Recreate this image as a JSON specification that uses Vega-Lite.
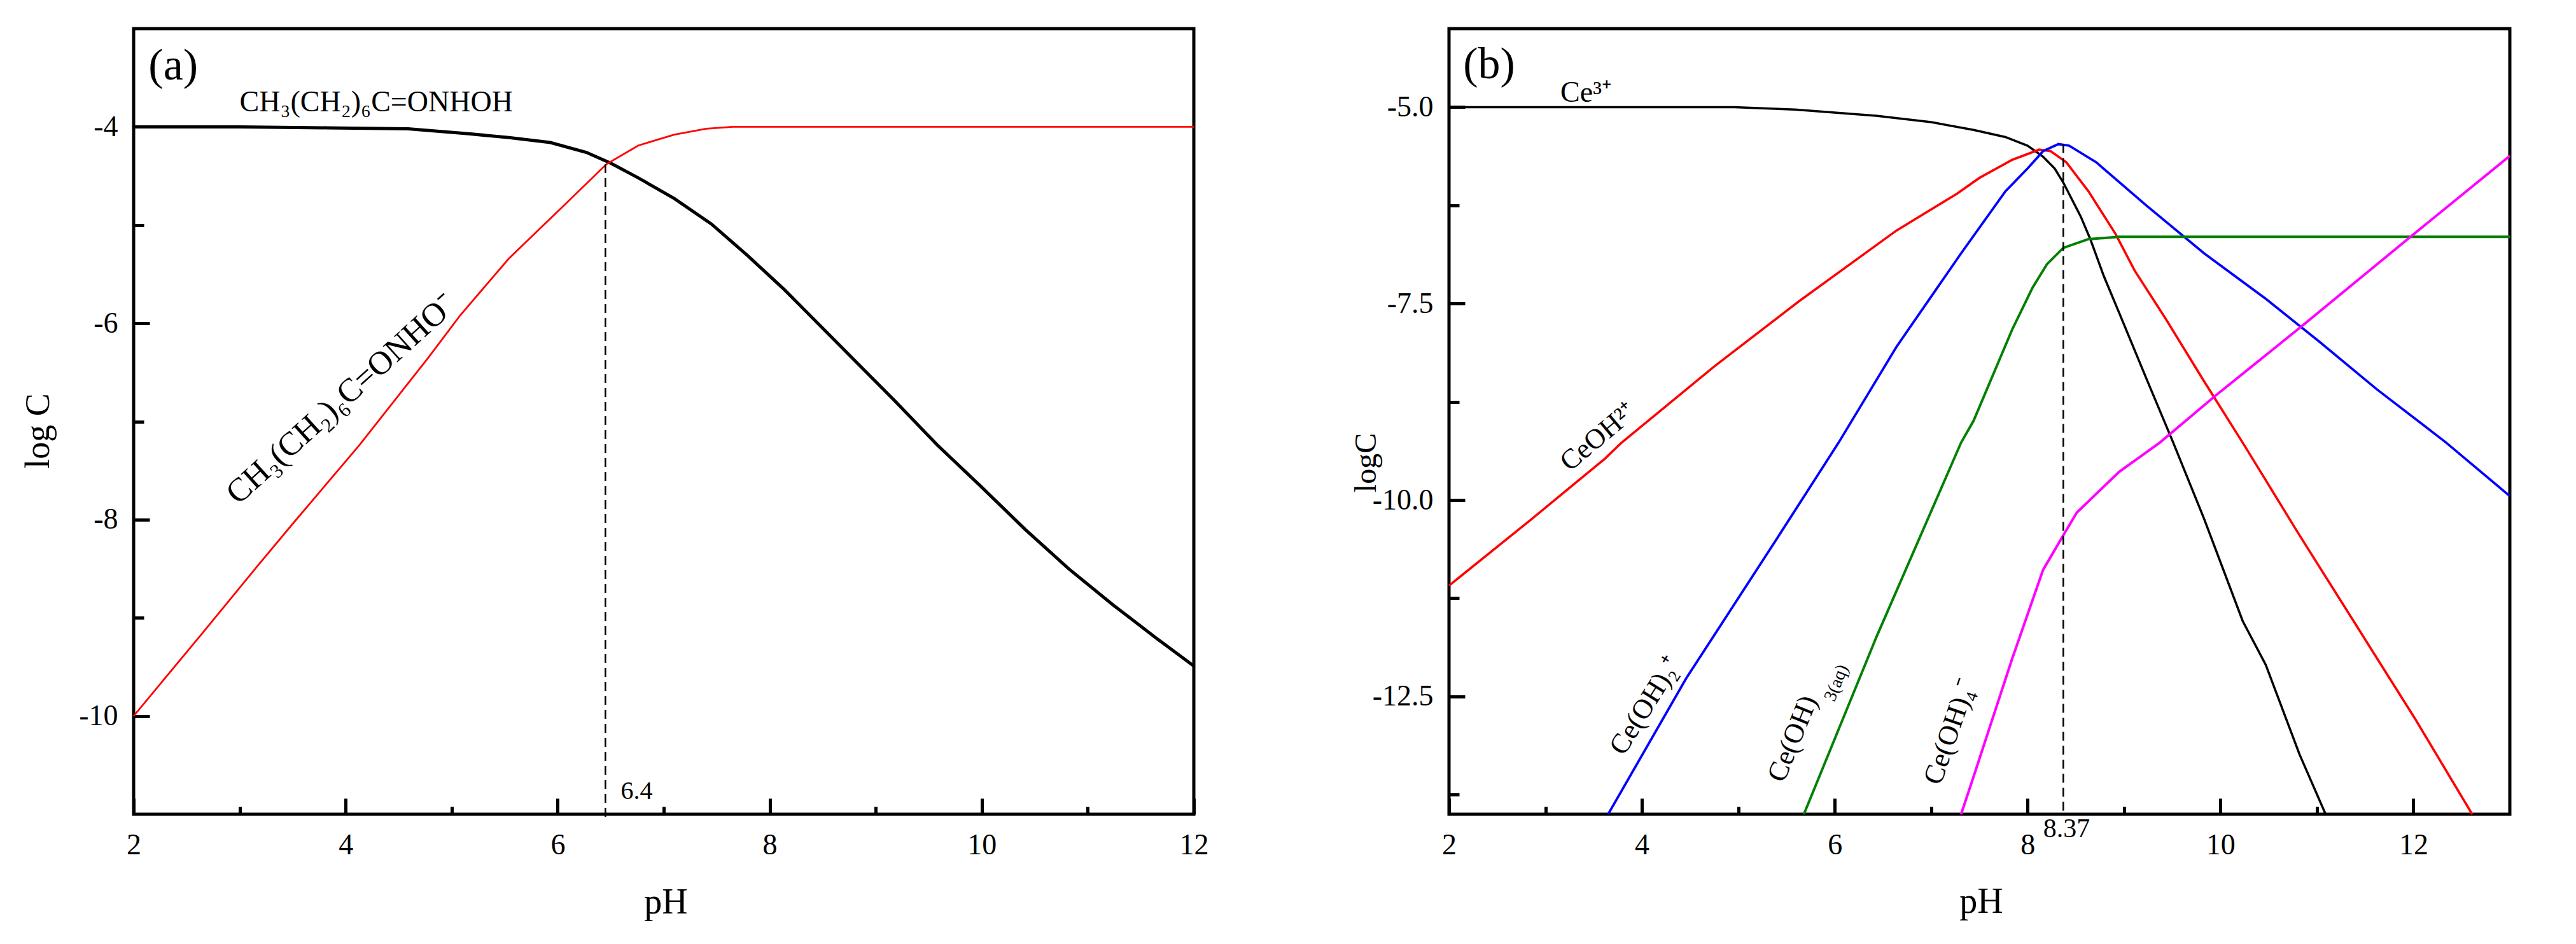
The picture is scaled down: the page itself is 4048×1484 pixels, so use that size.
{
  "$schema": "https://vega.github.io/schema/vega-lite/v6.json",
  "background": "white",
  "padding": {"left": 30, "top": 42, "right": 5, "bottom": 5},
  "config": {
    "view": {"stroke": "black", "strokeWidth": 5},
    "font": "Liberation Serif",
    "text": {"font": "Liberation Serif", "color": "black"},
    "axis": {
      "domain": false,
      "grid": false,
      "labelFont": "Liberation Serif",
      "labelFontSize": 46,
      "labelColor": "black",
      "labelFlush": false,
      "labelOverlap": false,
      "tickColor": "black",
      "tickWidth": 5,
      "titleFont": "Liberation Serif",
      "titleFontSize": 56,
      "titleFontWeight": "normal",
      "titleColor": "black"
    }
  },
  "datasets": {
    "curvesA": [
      {"species": "HA", "pH": 2, "logC": -4.0},
      {"species": "HA", "pH": 3, "logC": -4.0},
      {"species": "HA", "pH": 3.82, "logC": -4.01},
      {"species": "HA", "pH": 4.59, "logC": -4.02},
      {"species": "HA", "pH": 5.16, "logC": -4.07},
      {"species": "HA", "pH": 5.54, "logC": -4.11},
      {"species": "HA", "pH": 5.93, "logC": -4.16},
      {"species": "HA", "pH": 6.27, "logC": -4.26},
      {"species": "HA", "pH": 6.5, "logC": -4.37},
      {"species": "HA", "pH": 6.76, "logC": -4.52},
      {"species": "HA", "pH": 7.1, "logC": -4.73},
      {"species": "HA", "pH": 7.45, "logC": -4.99},
      {"species": "HA", "pH": 7.79, "logC": -5.31},
      {"species": "HA", "pH": 8.14, "logC": -5.66},
      {"species": "HA", "pH": 8.48, "logC": -6.03},
      {"species": "HA", "pH": 8.83, "logC": -6.41},
      {"species": "HA", "pH": 9.17, "logC": -6.78},
      {"species": "HA", "pH": 9.58, "logC": -7.24},
      {"species": "HA", "pH": 9.99, "logC": -7.66},
      {"species": "HA", "pH": 10.41, "logC": -8.1},
      {"species": "HA", "pH": 10.82, "logC": -8.5},
      {"species": "HA", "pH": 11.24, "logC": -8.87},
      {"species": "HA", "pH": 11.65, "logC": -9.21},
      {"species": "HA", "pH": 12, "logC": -9.49},
      {"species": "A", "pH": 2, "logC": -10.0},
      {"species": "A", "pH": 2.63, "logC": -9.18},
      {"species": "A", "pH": 3.17, "logC": -8.47},
      {"species": "A", "pH": 3.51, "logC": -8.03},
      {"species": "A", "pH": 4.13, "logC": -7.24},
      {"species": "A", "pH": 4.78, "logC": -6.35},
      {"species": "A", "pH": 5.08, "logC": -5.92},
      {"species": "A", "pH": 5.54, "logC": -5.34},
      {"species": "A", "pH": 6.04, "logC": -4.82},
      {"species": "A", "pH": 6.46, "logC": -4.38},
      {"species": "A", "pH": 6.76, "logC": -4.19},
      {"species": "A", "pH": 7.1, "logC": -4.08},
      {"species": "A", "pH": 7.4, "logC": -4.02},
      {"species": "A", "pH": 7.65, "logC": -4.0},
      {"species": "A", "pH": 12, "logC": -4.0}
    ],
    "curvesB": [
      {"species": "Ce3+", "pH": 2, "logC": -5.0},
      {"species": "Ce3+", "pH": 3, "logC": -5.0},
      {"species": "Ce3+", "pH": 4, "logC": -5.0},
      {"species": "Ce3+", "pH": 4.96, "logC": -5.0},
      {"species": "Ce3+", "pH": 5.59, "logC": -5.03},
      {"species": "Ce3+", "pH": 6.43, "logC": -5.11},
      {"species": "Ce3+", "pH": 7.0, "logC": -5.19},
      {"species": "Ce3+", "pH": 7.44, "logC": -5.29},
      {"species": "Ce3+", "pH": 7.77, "logC": -5.38},
      {"species": "Ce3+", "pH": 8.0, "logC": -5.49},
      {"species": "Ce3+", "pH": 8.16, "logC": -5.63},
      {"species": "Ce3+", "pH": 8.28, "logC": -5.78},
      {"species": "Ce3+", "pH": 8.37, "logC": -5.96},
      {"species": "Ce3+", "pH": 8.55, "logC": -6.39},
      {"species": "Ce3+", "pH": 8.65, "logC": -6.68},
      {"species": "Ce3+", "pH": 8.79, "logC": -7.15},
      {"species": "Ce3+", "pH": 8.95, "logC": -7.62},
      {"species": "Ce3+", "pH": 9.23, "logC": -8.45},
      {"species": "Ce3+", "pH": 9.51, "logC": -9.27},
      {"species": "Ce3+", "pH": 9.83, "logC": -10.24},
      {"species": "Ce3+", "pH": 10.23, "logC": -11.54},
      {"species": "Ce3+", "pH": 10.47, "logC": -12.1},
      {"species": "Ce3+", "pH": 10.82, "logC": -13.24},
      {"species": "Ce3+", "pH": 11.09, "logC": -14.0},
      {"species": "CeOH2+", "pH": 2, "logC": -11.09},
      {"species": "CeOH2+", "pH": 2.86, "logC": -10.24},
      {"species": "CeOH2+", "pH": 3.62, "logC": -9.47},
      {"species": "CeOH2+", "pH": 3.79, "logC": -9.27},
      {"species": "CeOH2+", "pH": 4.75, "logC": -8.3},
      {"species": "CeOH2+", "pH": 5.63, "logC": -7.47},
      {"species": "CeOH2+", "pH": 6.64, "logC": -6.57},
      {"species": "CeOH2+", "pH": 7.27, "logC": -6.1},
      {"species": "CeOH2+", "pH": 7.5, "logC": -5.9},
      {"species": "CeOH2+", "pH": 7.84, "logC": -5.67},
      {"species": "CeOH2+", "pH": 8.12, "logC": -5.54},
      {"species": "CeOH2+", "pH": 8.24, "logC": -5.56},
      {"species": "CeOH2+", "pH": 8.4, "logC": -5.7},
      {"species": "CeOH2+", "pH": 8.63, "logC": -6.07},
      {"species": "CeOH2+", "pH": 8.91, "logC": -6.61},
      {"species": "CeOH2+", "pH": 9.11, "logC": -7.08},
      {"species": "CeOH2+", "pH": 9.43, "logC": -7.69},
      {"species": "CeOH2+", "pH": 9.83, "logC": -8.49},
      {"species": "CeOH2+", "pH": 10.23, "logC": -9.27},
      {"species": "CeOH2+", "pH": 10.82, "logC": -10.45},
      {"species": "CeOH2+", "pH": 11.42, "logC": -11.62},
      {"species": "CeOH2+", "pH": 12.02, "logC": -12.79},
      {"species": "CeOH2+", "pH": 12.61, "logC": -14.0},
      {"species": "Ce(OH)2+", "pH": 3.65, "logC": -14.0},
      {"species": "Ce(OH)2+", "pH": 4.46, "logC": -12.27},
      {"species": "Ce(OH)2+", "pH": 5.38, "logC": -10.53},
      {"species": "Ce(OH)2+", "pH": 6.04, "logC": -9.27},
      {"species": "Ce(OH)2+", "pH": 6.64, "logC": -8.05},
      {"species": "Ce(OH)2+", "pH": 7.31, "logC": -6.86},
      {"species": "Ce(OH)2+", "pH": 7.77, "logC": -6.07},
      {"species": "Ce(OH)2+", "pH": 8.0, "logC": -5.78},
      {"species": "Ce(OH)2+", "pH": 8.16, "logC": -5.56},
      {"species": "Ce(OH)2+", "pH": 8.32, "logC": -5.47},
      {"species": "Ce(OH)2+", "pH": 8.43, "logC": -5.49},
      {"species": "Ce(OH)2+", "pH": 8.71, "logC": -5.7},
      {"species": "Ce(OH)2+", "pH": 9.23, "logC": -6.25},
      {"species": "Ce(OH)2+", "pH": 9.83, "logC": -6.86},
      {"species": "Ce(OH)2+", "pH": 10.47, "logC": -7.44},
      {"species": "Ce(OH)2+", "pH": 11.02, "logC": -7.98},
      {"species": "Ce(OH)2+", "pH": 11.62, "logC": -8.59},
      {"species": "Ce(OH)2+", "pH": 12.34, "logC": -9.27},
      {"species": "Ce(OH)2+", "pH": 13.0, "logC": -9.95},
      {"species": "Ce(OH)3", "pH": 5.68, "logC": -14.0},
      {"species": "Ce(OH)3", "pH": 6.43, "logC": -11.75},
      {"species": "Ce(OH)3", "pH": 7.31, "logC": -9.27},
      {"species": "Ce(OH)3", "pH": 7.44, "logC": -8.99},
      {"species": "Ce(OH)3", "pH": 7.84, "logC": -7.83},
      {"species": "Ce(OH)3", "pH": 8.05, "logC": -7.3},
      {"species": "Ce(OH)3", "pH": 8.2, "logC": -7.0},
      {"species": "Ce(OH)3", "pH": 8.37, "logC": -6.79},
      {"species": "Ce(OH)3", "pH": 8.63, "logC": -6.68},
      {"species": "Ce(OH)3", "pH": 8.95, "logC": -6.65},
      {"species": "Ce(OH)3", "pH": 13.0, "logC": -6.65},
      {"species": "Ce(OH)4-", "pH": 7.31, "logC": -14.0},
      {"species": "Ce(OH)4-", "pH": 7.44, "logC": -13.52},
      {"species": "Ce(OH)4-", "pH": 7.84, "logC": -12.02},
      {"species": "Ce(OH)4-", "pH": 8.16, "logC": -10.89},
      {"species": "Ce(OH)4-", "pH": 8.37, "logC": -10.45},
      {"species": "Ce(OH)4-", "pH": 8.51, "logC": -10.16},
      {"species": "Ce(OH)4-", "pH": 8.95, "logC": -9.64},
      {"species": "Ce(OH)4-", "pH": 9.37, "logC": -9.27},
      {"species": "Ce(OH)4-", "pH": 9.95, "logC": -8.67},
      {"species": "Ce(OH)4-", "pH": 10.83, "logC": -7.8},
      {"species": "Ce(OH)4-", "pH": 11.98, "logC": -6.64},
      {"species": "Ce(OH)4-", "pH": 13.0, "logC": -5.62}
    ]
  },
  "bounds": "flush",
  "spacing": 401,
  "resolve": {"scale": {"color": "independent", "strokeWidth": "independent"}},
  "hconcat": [
    {
      "width": 1666,
      "height": 1235,
      "encoding": {
        "x": {
          "field": "pH", "type": "quantitative",
          "scale": {"domain": [2, 12], "nice": false, "zero": false},
          "axis": {
            "title": "pH", "orient": "bottom",
            "values": [2, 3, 4, 5, 6, 7, 8, 9, 10, 11, 12],
            "labelExpr": "datum.value % 2 === 0 ? datum.label : ''",
            "tickSize": {"condition": {"test": "datum.value % 2 !== 0", "value": -12}, "value": -25},
            "labelPadding": 51,
            "titleX": 836, "titleY": 155, "titleBaseline": "alphabetic", "titleAlign": "center"
          }
        },
        "y": {
          "field": "logC", "type": "quantitative",
          "scale": {"domain": [-11, -3], "nice": false, "zero": false},
          "axis": {
            "title": "log C", "orient": "left",
            "values": [-10, -9, -8, -7, -6, -5, -4],
            "labelExpr": "datum.value % 2 === 0 ? replace(datum.label, '−', '-') : ''",
            "tickSize": {"condition": {"test": "datum.value % 2 !== 0", "value": -16}, "value": -25},
            "labelPadding": 50,
            "titleFontSize": 54,
            "titleX": -134, "titleY": 632, "titleAngle": -90, "titleBaseline": "alphabetic", "titleAlign": "center"
          }
        }
      },
      "layer": [
        {
          "data": {"name": "curvesA"},
          "mark": {"type": "line"},
          "encoding": {
            "color": {"field": "species", "type": "nominal", "scale": {"domain": ["HA", "A"], "range": ["black", "#FF0000"]}, "legend": null},
            "strokeWidth": {"field": "species", "type": "nominal", "scale": {"domain": ["HA", "A"], "range": [5, 2.8]}, "legend": null}
          }
        },
        {
          "data": {"values": [{"pH": 6.45, "logC": -4.38, "logC2": -11.05}]},
          "mark": {"type": "rule", "color": "black", "strokeWidth": 2.5, "strokeDash": [14, 8]},
          "encoding": {"y2": {"field": "logC2"}}
        },
        {
          "data": {"values": [{"pH": 2.14, "logC": -3.38, "label": "(a)"}]},
          "mark": {"type": "text", "fontSize": 70, "align": "left", "baseline": "middle"},
          "encoding": {"text": {"field": "label"}}
        },
        {
          "data": {"values": [{"pH": 3.0, "logC": -3.84, "label": "CH₃(CH₂)₆C=ONHOH"}]},
          "mark": {"type": "text", "fontSize": 46, "align": "left", "baseline": "alphabetic"},
          "encoding": {"text": {"field": "label"}}
        },
        {
          "data": {"values": [{"pH": 3.96, "logC": -6.77, "label": "CH₃(CH₂)₆C=ONHO⁻"}]},
          "mark": {"type": "text", "fontSize": 52, "align": "center", "baseline": "middle", "angle": -42},
          "encoding": {"text": {"field": "label"}}
        },
        {
          "data": {"values": [{"pH": 6.745, "logC": -10.77, "label": "6.4"}]},
          "mark": {"type": "text", "fontSize": 40, "align": "center", "baseline": "middle"},
          "encoding": {"text": {"field": "label"}}
        }
      ]
    },
    {
      "width": 1667,
      "height": 1235,
      "encoding": {
        "x": {
          "field": "pH", "type": "quantitative",
          "scale": {"domain": [2, 13], "nice": false, "zero": false},
          "axis": {
            "title": "pH", "orient": "bottom",
            "values": [2, 3, 4, 5, 6, 7, 8, 9, 10, 11, 12],
            "labelExpr": "datum.value % 2 === 0 ? datum.label : ''",
            "tickSize": {"condition": {"test": "datum.value % 2 !== 0", "value": -12}, "value": -25},
            "labelPadding": 51,
            "titleX": 836, "titleY": 154, "titleBaseline": "alphabetic", "titleAlign": "center"
          }
        },
        "y": {
          "field": "logC", "type": "quantitative",
          "scale": {"domain": [-14, -4], "nice": false, "zero": false},
          "axis": {
            "title": "logC", "orient": "left",
            "values": [-13.75, -12.5, -11.25, -10, -8.75, -7.5, -6.25, -5],
            "labelExpr": "abs(datum.value % 2.5) < 0.001 ? replace(format(datum.value, '.1f'), '−', '-') : ''",
            "tickSize": {"condition": {"test": "abs(datum.value % 2.5) > 0.001", "value": -16}, "value": -25},
            "labelPadding": 50,
            "titleFontSize": 48,
            "titleX": -116, "titleY": 682, "titleAngle": -90, "titleBaseline": "alphabetic", "titleAlign": "center"
          }
        }
      },
      "layer": [
        {
          "data": {"name": "curvesB"},
          "mark": {"type": "line"},
          "encoding": {
            "color": {"field": "species", "type": "nominal", "scale": {"domain": ["Ce3+", "CeOH2+", "Ce(OH)2+", "Ce(OH)3", "Ce(OH)4-"], "range": ["black", "#FF0000", "#0000FF", "#008000", "#FF00FF"]}, "legend": null},
            "strokeWidth": {"field": "species", "type": "nominal", "scale": {"domain": ["Ce3+", "CeOH2+", "Ce(OH)2+", "Ce(OH)3", "Ce(OH)4-"], "range": [3.5, 4, 4.5, 5, 4.5]}, "legend": null}
          }
        },
        {
          "data": {"values": [{"pH": 8.37, "logC": -5.47, "logC2": -14.0}]},
          "mark": {"type": "rule", "color": "black", "strokeWidth": 2.5, "strokeDash": [14, 8]},
          "encoding": {"y2": {"field": "logC2"}}
        },
        {
          "data": {"values": [{"pH": 2.147, "logC": -4.46, "label": "(b)"}]},
          "mark": {"type": "text", "fontSize": 70, "align": "left", "baseline": "middle"},
          "encoding": {"text": {"field": "label"}}
        },
        {
          "data": {"values": [{"pH": 3.155, "logC": -4.928, "label": "Ce³⁺"}]},
          "mark": {"type": "text", "fontSize": 46, "align": "left", "baseline": "alphabetic"},
          "encoding": {"text": {"field": "label"}}
        },
        {
          "data": {"values": [{"pH": 3.55, "logC": -9.2, "label": "CeOH²⁺"}]},
          "mark": {"type": "text", "fontSize": 44, "align": "center", "baseline": "middle", "angle": -40},
          "encoding": {"text": {"field": "label"}}
        },
        {
          "data": {"values": [{"pH": 4.04, "logC": -12.62, "label": "Ce(OH)₂⁺"}]},
          "mark": {"type": "text", "fontSize": 44, "align": "center", "baseline": "middle", "angle": -58},
          "encoding": {"text": {"field": "label"}}
        },
        {
          "data": {"values": [{"pH": 5.567, "logC": -13.04, "label": "Ce(OH)"}]},
          "mark": {"type": "text", "fontSize": 44, "align": "center", "baseline": "middle", "angle": -68},
          "encoding": {"text": {"field": "label"}}
        },
        {
          "data": {"values": [{"pH": 6.019, "logC": -12.33, "label": "3(aq)"}]},
          "mark": {"type": "text", "fontSize": 28, "align": "center", "baseline": "middle", "angle": -68},
          "encoding": {"text": {"field": "label"}}
        },
        {
          "data": {"values": [{"pH": 7.2, "logC": -12.95, "label": "Ce(OH)₄⁻"}]},
          "mark": {"type": "text", "fontSize": 44, "align": "center", "baseline": "middle", "angle": -71},
          "encoding": {"text": {"field": "label"}}
        },
        {
          "data": {"values": [{"pH": 8.404, "logC": -14.19, "label": "8.37"}]},
          "mark": {"type": "text", "fontSize": 42, "align": "center", "baseline": "middle"},
          "encoding": {"text": {"field": "label"}}
        }
      ]
    }
  ]
}
